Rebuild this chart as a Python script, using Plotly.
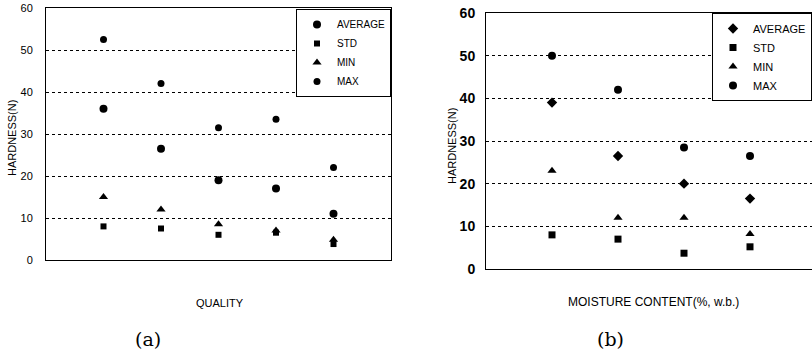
import plotly.graph_objects as go

# ---- data ----
cats_a = [1, 2, 3, 4, 5]
avg_a = [36, 26.5, 19, 17, 11]
std_a = [8, 7.5, 6, 6.5, 3.8]
min_a = [15, 12, 8.5, 7, 4.8]
max_a = [52.5, 42, 31.5, 33.5, 22]

cats_b = [1, 2, 3, 4]
avg_b = [39, 26.5, 20, 16.5]
std_b = [8, 7, 3.7, 5.2]
min_b = [23, 12, 12, 8.2]
max_b = [50, 42, 28.5, 26.5]

yticks = [0, 10, 20, 30, 40, 50, 60]

W, H = 812, 354
FONT = "Liberation Sans, Arial, sans-serif"

def px_x(p):
    return p / W

def px_y(p):
    return 1 - p / H

fig = go.Figure()

# left panel (a)
specs_a = [
    ("AVERAGE", avg_a, "circle", 8, 1),
    ("MIN", min_a, "triangle-up", 8, 3),
    ("STD", std_a, "square", 6, 2),
    ("MAX", max_a, "circle", 7, 4),
]
for name, vals, sym, size, rank in specs_a:
    fig.add_trace(go.Scatter(
        x=cats_a, y=vals, mode="markers", name=name, legendrank=rank,
        marker=dict(symbol=sym, size=size, color="black"),
        xaxis="x", yaxis="y", legend="legend"))

specs_b = [
    ("AVERAGE", avg_b, "diamond", 8, 1),
    ("MIN", min_b, "triangle-up", 8, 3),
    ("STD", std_b, "square", 7, 2),
    ("MAX", max_b, "circle", 8, 4),
]
for name, vals, sym, size, rank in specs_b:
    fig.add_trace(go.Scatter(
        x=cats_b, y=vals, mode="markers", name=name, legendrank=rank,
        marker=dict(symbol=sym, size=size, color="black"),
        xaxis="x2", yaxis="y2", legend="legend2"))

common_x = dict(showticklabels=False, showgrid=False, zeroline=False,
                showline=True, linecolor="black", linewidth=1, ticks="")
common_y = dict(range=[0, 60], tickvals=yticks, showgrid=True,
                gridcolor="black", griddash="dot", gridwidth=1,
                zeroline=False, showline=True, linecolor="black",
                linewidth=1, ticks="")

fig.update_layout(
    width=W, height=H,
    margin=dict(l=0, r=0, t=0, b=0, autoexpand=False),
    paper_bgcolor="white", plot_bgcolor="white",
    font=dict(family=FONT, color="black"),
    xaxis=dict(domain=[px_x(46), px_x(391)], range=[0, 6], mirror=True,
               anchor="y", **common_x),
    yaxis=dict(domain=[px_y(260), px_y(8)], mirror=True, anchor="x",
               ticklabelstandoff=10,
               tickfont=dict(size=11, family=FONT), **common_y),
    xaxis2=dict(domain=[px_x(486), 1.0], range=[0, (W - 486) / 66.0],
                mirror=True, anchor="y2", **common_x),
    yaxis2=dict(domain=[px_y(269), px_y(13)], mirror=False, anchor="x2",
                ticklabelstandoff=7,
                tickfont=dict(size=14, family=FONT, weight="bold"),
                **common_y),
    legend=dict(x=px_x(391), xanchor="right", y=px_y(9), yanchor="top",
                bordercolor="black", borderwidth=1, bgcolor="white",
                font=dict(size=10, family=FONT), itemwidth=30,
                tracegroupgap=0),
    legend2=dict(x=1.0, xanchor="right", y=px_y(13), yanchor="top",
                 bordercolor="black", borderwidth=1, bgcolor="white",
                 font=dict(size=11, family=FONT), itemwidth=30,
                 tracegroupgap=0),
    showlegend=True,
)

ann = [
    dict(text="HARDNESS(N)", x=px_x(12), y=px_y(138), textangle=-90, font=dict(size=11)),
    dict(text="HARDNESS(N)", x=px_x(452), y=px_y(146), textangle=-90, font=dict(size=11)),
    dict(text="QUALITY", x=px_x(220), y=px_y(303), font=dict(size=11)),
    dict(text="MOISTURE CONTENT(%, w.b.)", x=px_x(653), y=px_y(302), font=dict(size=12)),
    dict(text="(a)", x=px_x(148), y=px_y(339), font=dict(size=19, family="DejaVu Serif, serif")),
    dict(text="(b)", x=px_x(610), y=px_y(339), font=dict(size=19, family="DejaVu Serif, serif")),
]
for a in ann:
    fig.add_annotation(xref="paper", yref="paper", showarrow=False,
                       xanchor="center", yanchor="middle", **a)

fig.write_html("out.html")
